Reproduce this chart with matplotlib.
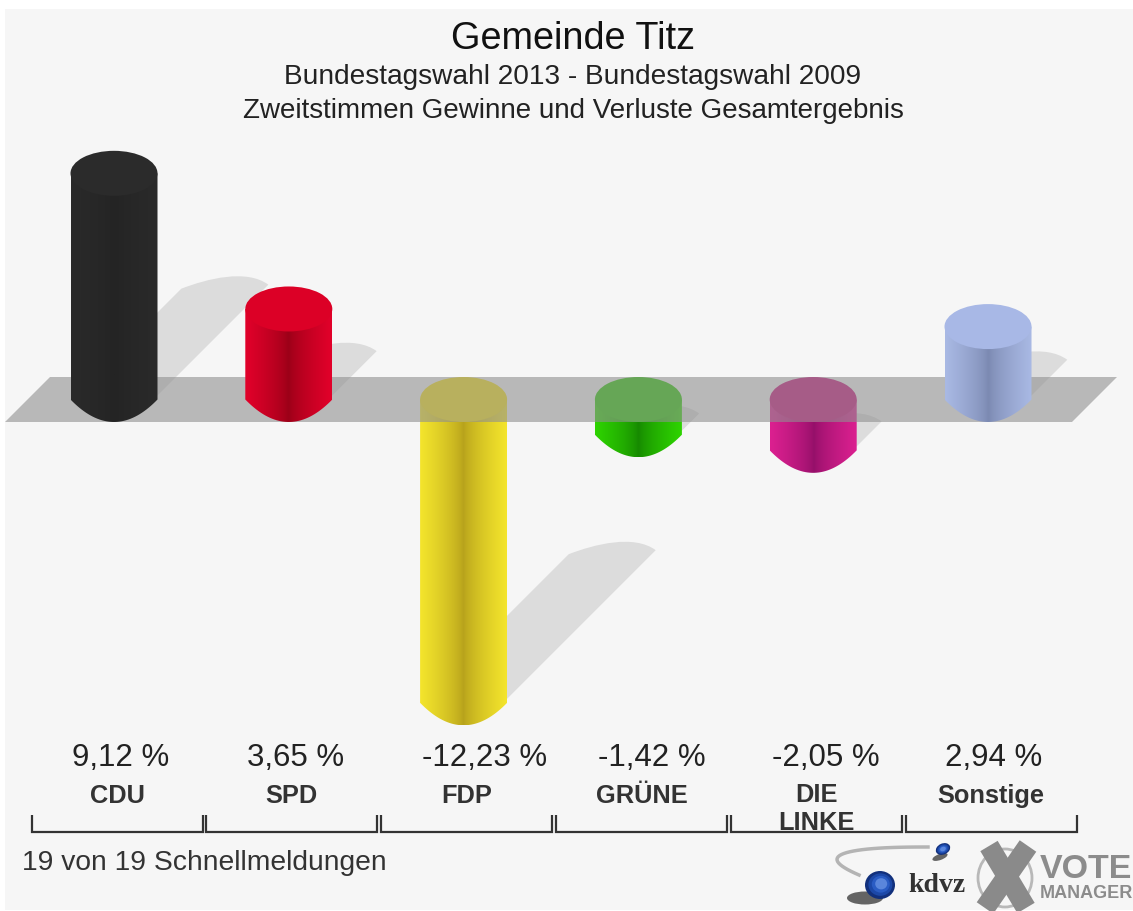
import numpy as np
import matplotlib
matplotlib.use('Agg')
import matplotlib.pyplot as plt
from matplotlib.colors import LinearSegmentedColormap
from matplotlib.patches import Ellipse, PathPatch, Polygon, Rectangle
from matplotlib.path import Path

parties = ['CDU', 'SPD', 'FDP', 'GRÜNE', 'DIE\nLINKE', 'Sonstige']
values = [9.12, 3.65, -12.23, -1.42, -2.05, 2.94]
value_labels = ['9,12 %', '3,65 %', '-12,23 %', '-1,42 %', '-2,05 %', '2,94 %']

edge_colors = ['#2a2a2a', '#e2002a', '#f4e52c', '#2ed400', '#dc2090', '#a9b9e4']
dark_colors = ['#242424', '#9c0018', '#b8a31c', '#178a00', '#96106a', '#7c8ab2']
top_colors = ['#2b2b2b', '#dc0026', '#f4e014', '#28c800', '#c8107c', '#a8b8e6']
label_shift = [4, 4, 18, 10, 10, 3]

plt.rcParams['font.family'] = ['Liberation Sans', 'DejaVu Sans']

# pixel layout of the picture: bar i sits at X0 + i * DX, value 0 at Y0
X0, DX = 114.0, 174.8
Y0, PPV = 399.5, 24.8
W, H = 1133, 911
BAR_W = 87.0
CAP_H = 45.0


def px(x, y):
    return (x - X0) / DX, (Y0 - y) / PPV


fig = plt.figure(figsize=[W / 100, H / 100], dpi=100, facecolor='white')
ax = fig.add_axes([0, 0, 1, 1])
ax.axis('off')

ax.add_patch(Rectangle(px(5, 910), 1128 / DX, 901 / PPV, fc='#f6f6f6', ec='none', zorder=0))

hw = BAR_W / 2 / DX
hh = CAP_H / 2 / PPV
u = np.linspace(-1, 1, 40)

for i, v in enumerate(values):
    base = min(v, 0)
    top = max(v, 0)

    # shadow thrown up and to the right, as long as half the bar
    shift = abs(v) * PPV * 0.49
    sx, sy = shift / DX, shift / PPV
    lift = 4 / PPV
    verts = [(i - hw, base), (i - hw + sx, base + sy),
             (i - hw + sx + 0.3 * 2 * hw, base + sy + 10 / PPV),
             (i - hw + sx + 0.75 * 2 * hw, base + sy + 20 / PPV),
             (i + hw + sx, base + sy + lift), (i + hw, base + lift), (i - hw, base)]
    codes = [Path.MOVETO, Path.LINETO, Path.CURVE4, Path.CURVE4, Path.CURVE4,
             Path.LINETO, Path.CLOSEPOLY]
    ax.add_patch(PathPatch(Path(verts, codes), fc='#dcdcdc', ec='none', zorder=1))

    # negative bars go under the grey band, positive ones in front of it
    z = 2 if v < 0 else 4

    # the lower end is more pointed than an ellipse
    xs = i + hw * u
    ys = base - hh * (1 - u ** 2)
    body = np.column_stack([np.r_[i - hw, xs, i + hw], np.r_[top, ys, top]])
    clip = Polygon(body, closed=True, fc='none', ec='none', transform=ax.transData)
    ax.add_patch(clip)
    cmap = LinearSegmentedColormap.from_list('c', [dark_colors[i], edge_colors[i]])
    shade = np.abs(np.linspace(-1, 1, 128)) ** 0.7
    im = ax.imshow(shade.reshape(1, -1), cmap=cmap, aspect='auto',
                   extent=(i - hw, i + hw, base - hh, top), zorder=z)
    im.set_clip_path(clip)

    ax.add_patch(Ellipse((i, top), 2 * hw, 2 * hh, fc=top_colors[i], ec='none', zorder=z + 0.5))

band = [px(5, 422), px(50, 377), px(1117, 377), px(1072, 422)]
ax.add_patch(Polygon(band, closed=True, fc='#909090', ec='none', alpha=0.6, zorder=3))

ax.set_xlim(px(0, 0)[0], px(W, 0)[0])
ax.set_ylim(px(0, H)[1], px(0, 0)[1])

# texts and logos are simply placed in picture pixels
ax2 = fig.add_axes([0, 0, 1, 1], zorder=5)
ax2.set_xlim(0, W)
ax2.set_ylim(H, 0)
ax2.axis('off')

TXT = '#222222'
ax2.text(573, 39, 'Gemeinde Titz', fontsize=27.3, ha='center', va='center', color='#111111')
ax2.text(573, 77, 'Bundestagswahl 2013 - Bundestagswahl 2009', fontsize=20.2,
         ha='center', va='center', color=TXT)
ax2.text(573, 111, 'Zweitstimmen Gewinne und Verluste Gesamtergebnis', fontsize=20.0,
         ha='center', va='center', color=TXT)

for i, (name, label) in enumerate(zip(parties, value_labels)):
    x = 117 + i * DX
    ax2.text(x + label_shift[i], 758, label, fontsize=22.5, ha='center', va='center', color=TXT)
    ax2.text(x, 796 if '\n' not in name else 809, name, fontsize=18.3, weight='bold', ha='center',
             va='center', color='#333333', linespacing=1.18)
    ax2.plot([x - 85.5, x - 85.5, x + 85.5, x + 85.5], [815, 832, 832, 815], color='#333333',
             lw=1.6, solid_joinstyle='miter', solid_capstyle='butt')

ax2.text(22, 863, '19 von 19 Schnellmeldungen', fontsize=20.3, ha='left', va='center', color='#333333')

# kdvz logo
a = np.linspace(0.0, 1.0, 30)
ax2.plot(928 - 91 * np.sin(a * np.pi * 0.75) ** 0.8, 847 + 28 * a ** 2, color='#b4b4b4', lw=2.5)
ax2.add_patch(Ellipse((865, 898), 36, 13, fc='#333333', ec='none', alpha=0.75))
ax2.add_patch(Ellipse((940, 857), 16, 6, angle=-20, fc='#333333', ec='none', alpha=0.75))
for frac, col in zip([1.0, 0.8, 0.6, 0.4], ['#12307c', '#1c48a8', '#2a5cc4', '#5a86dc']):
    ax2.add_patch(Ellipse((880 + 2 * (1 - frac), 885 - 2 * (1 - frac)), 30 * frac, 28 * frac, fc=col, ec='none'))
    ax2.add_patch(Ellipse((943, 849), 15 * frac, 11 * frac, angle=-25, fc=col, ec='none'))
ax2.text(937, 886, 'kdvz', fontsize=20, family='Liberation Serif', weight='bold', ha='center',
         va='center', color='#333333')

# vote manager logo
ax2.add_patch(Ellipse((1005, 878), 54, 58, fc='none', ec='#b8b8b8', lw=2))
ax2.plot([989, 1026], [846, 908], color='#8a8a8a', lw=14.5, solid_capstyle='butt')
ax2.plot([1028, 985], [846, 908], color='#8a8a8a', lw=14.5, solid_capstyle='butt')
ax2.text(1040, 870, 'VOTE', fontsize=24.5, weight='bold', ha='left', va='center', color='#8c8c8c')
ax2.text(1040, 894, 'MANAGER', fontsize=13, weight='bold', ha='left', va='center', color='#8c8c8c')

fig.savefig('out.png', dpi=100)
